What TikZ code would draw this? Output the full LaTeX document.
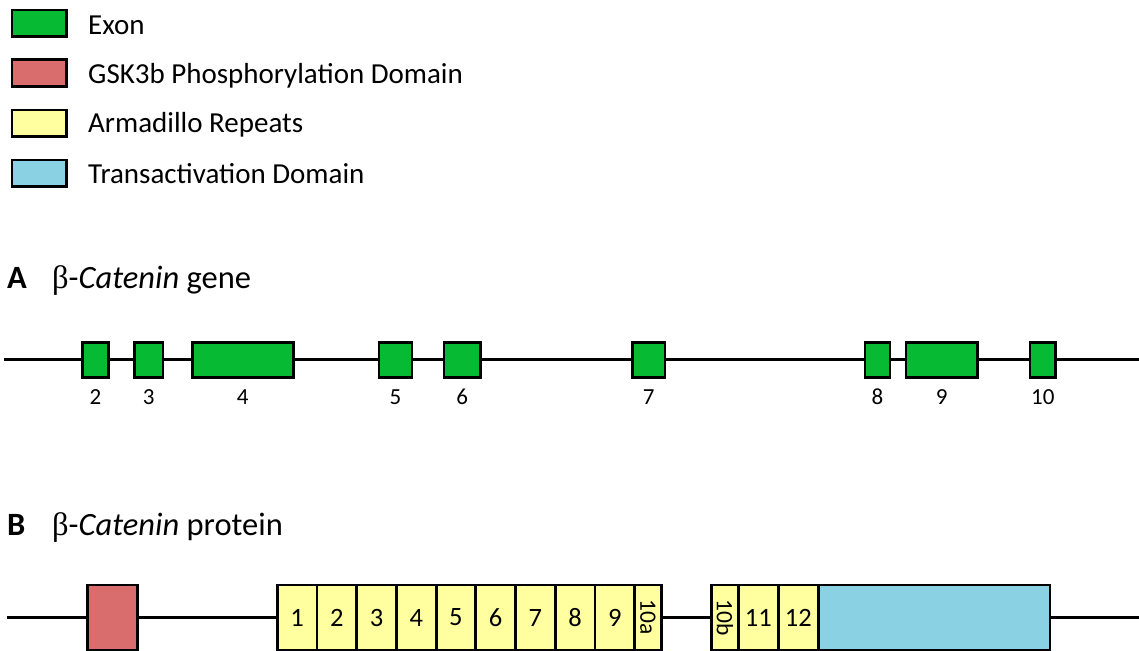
\documentclass[tikz,border=0pt]{standalone}
\usepackage{fontspec}
\setmainfont{Carlito}
\newfontfamily\grk{Liberation Serif}
\definecolor{exongreen}{RGB}{6,186,52}
\definecolor{gskred}{RGB}{217,108,108}
\definecolor{armyellow}{RGB}{255,255,160}
\definecolor{tadblue}{RGB}{137,209,227}
\tikzset{
  box/.style={draw=black, line width=2.8pt, inner sep=0pt, outer sep=0pt, anchor=center},
  exonbox/.style={box, fill=exongreen, minimum height=35pt},
  armbox/.style={box, fill=armyellow, minimum height=65pt, minimum width=39.7pt,
                 font=\fontsize{26.5}{26.5}\selectfont},
  armhalf/.style={armbox, minimum width=26.6pt, font=\fontsize{23.5}{23.5}\selectfont},
  legbox/.style={box, minimum width=54.7pt, minimum height=26.7pt},
  legtext/.style={anchor=base west, inner sep=0pt, font=\fontsize{29}{30}\selectfont},
  title/.style={anchor=base west, inner sep=0pt, font=\fontsize{32.5}{34}\selectfont},
  exonnum/.style={anchor=base, inner sep=0pt, font=\fontsize{23}{24}\selectfont},
  backbone/.style={draw=black, line width=2.4pt},
}
\begin{document}
\begin{tikzpicture}[x=1pt, y=-1pt]
\useasboundingbox (0,0) rectangle (1139,650);

% legend
\node[legbox, fill=exongreen]  (lg1) at (39.3,23.4) {};
\node[legbox, fill=gskred]     (lg2) at (39.3,72.8) {};
\node[legbox, fill=armyellow]  (lg3) at (39.3,123.4) {};
\node[legbox, fill=tadblue]    (lg4) at (39.3,173.4) {};
\node[legtext] (lt1) at (88,35)    {Exon};
\node[legtext] (lt2) at (88,83.5)  {GSK3b Phosphorylation Domain};
\node[legtext] (lt3) at (88,132)   {Armadillo Repeats};
\node[legtext] (lt4) at (88,183)   {Transactivation Domain};

% panel A: gene
\node[title] (ta) at (7,288) {\bfseries A};
\node[title] (tag) at (52,288) {{\grk β}-\textit{Catenin} gene};

\coordinate (gs) at (4,359.6);
\coordinate (ge) at (1139,359.6);
\node[exonbox, minimum width=25.6pt]  (e2)  at (95.5,359.6) {};
\node[exonbox, minimum width=28.7pt]  (e3)  at (148.7,359.6) {};
\node[exonbox, minimum width=101pt]   (e4)  at (242.8,359.6) {};
\node[exonbox, minimum width=33pt]    (e5)  at (395.5,359.6) {};
\node[exonbox, minimum width=36.7pt]  (e6)  at (462.3,359.6) {};
\node[exonbox, minimum width=32.3pt]  (e7)  at (648.8,359.6) {};
\node[exonbox, minimum width=25pt]    (e8)  at (877.5,359.6) {};
\node[exonbox, minimum width=71.7pt]  (e9)  at (941.8,359.6) {};
\node[exonbox, minimum width=25.7pt]  (e10) at (1042.8,359.6) {};
\draw[backbone] (gs) -- (e2) -- (e3) -- (e4) -- (e5) -- (e6) -- (e7)
                -- (e8) -- (e9) -- (e10) -- (ge);

\foreach \n in {2,...,10}
  \node[exonnum] (n\n) at ([yshift=-44.4pt]e\n.center) {\n};

% panel B: protein
\node[title] (tb) at (7,535) {\bfseries B};
\node[title] (tbg) at (52,535) {{\grk β}-\textit{Catenin} protein};

\coordinate (ps) at (6.7,617.5);
\coordinate (pe) at (1139,617.5);
\node[box, fill=gskred, minimum width=50pt, minimum height=65pt] (gsk) at (112.7,617.5) {};
\foreach \i in {1,...,9}
  \node[armbox] (a\i) at ({277.3+39.7*(\i-1)+19.85},617.5) {\i};
\node[armhalf] (a10a) at (648,617.5) {\rotatebox{-90}{10a}};
\node[armhalf] (a10b) at (725,617.5) {\rotatebox{-90}{10b}};
\node[armbox] (a11) at (758.3,617.5) {11};
\node[armbox] (a12) at (798.3,617.5) {12};
\node[box, fill=tadblue, minimum width=231.7pt, minimum height=65pt] (tad) at (934.2,617.5) {};
\draw[backbone] (ps) -- (gsk) -- (a1);
\draw[backbone] (a10a) -- (a10b);
\draw[backbone] (tad) -- (pe);
\end{tikzpicture}
\end{document}
